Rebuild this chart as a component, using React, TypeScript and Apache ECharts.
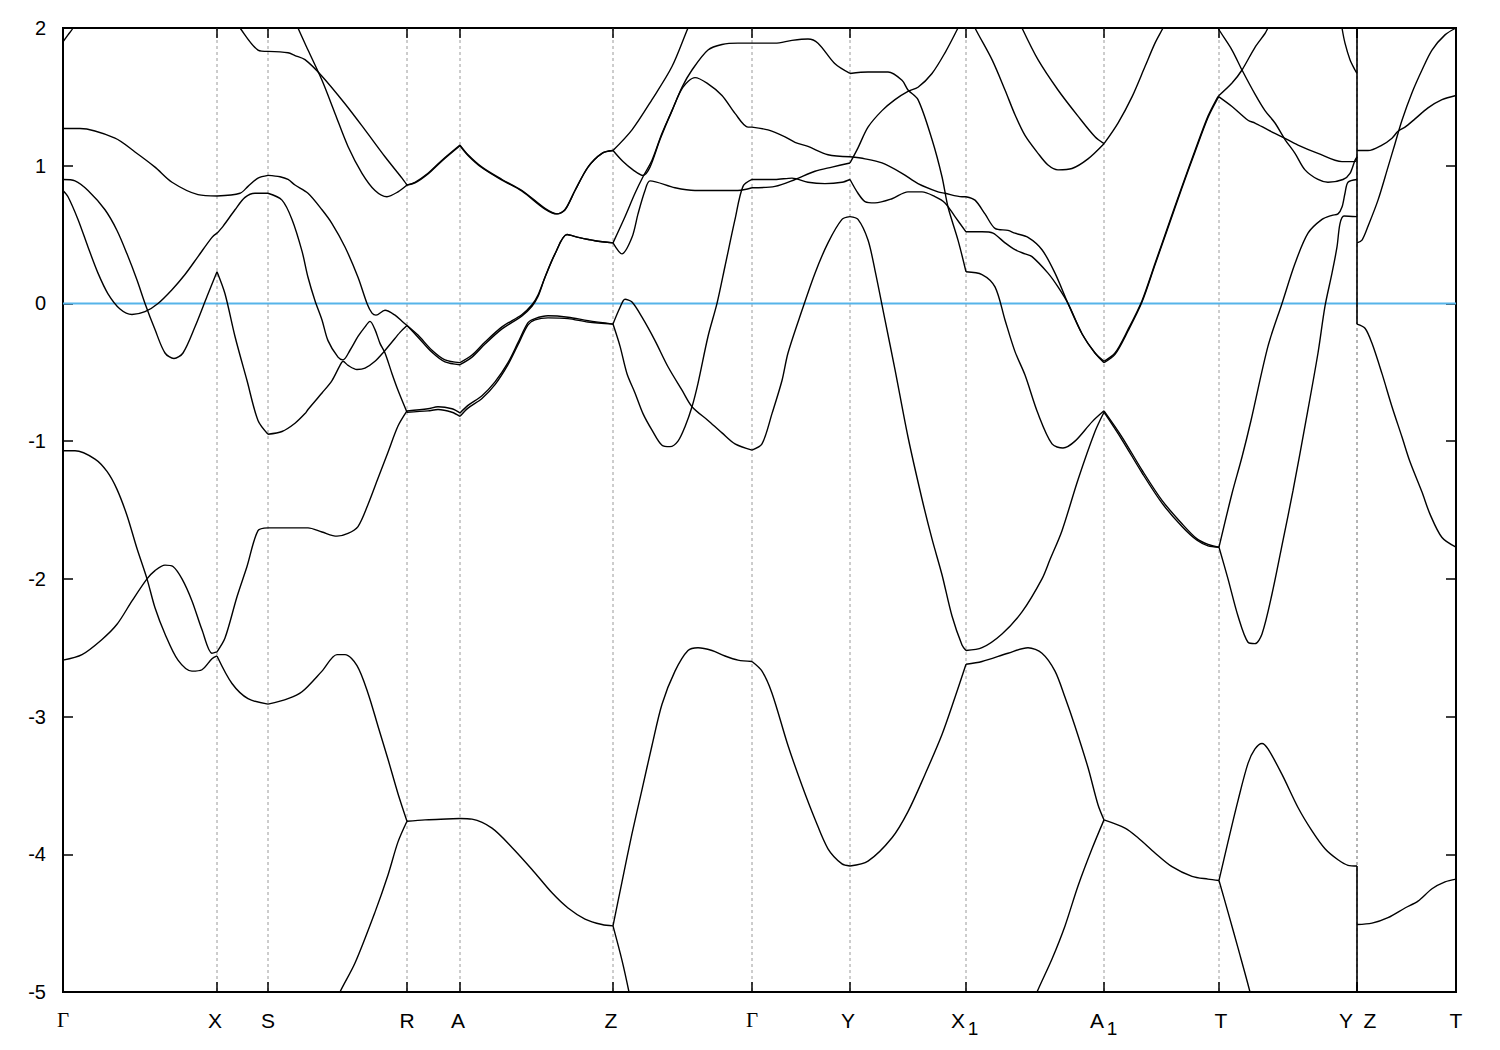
import React, { useEffect, useRef } from "react";
import * as echarts from "echarts";

// High-symmetry points along the k-path
const kPoints = [0, 1.54, 2.05, 3.44, 3.97, 5.5, 6.89, 7.87, 9.03, 10.41, 11.56, 12.94, 12.94, 13.93];
const kLabels = ["Γ", "X", "S", "R", "A", "Z", "Γ", "Y", "X", "A", "T", "Y", "Z", "T"];
const kSubs = ["", "", "", "", "", "", "", "", "1", "1", "", "", "", ""];

// Energy axis tick values
const eTicks = [2, 1, 0, -1, -2, -3, -4, -5];

// Band curves [k, E (eV)]
const c1 = [[0, 1.9], [0.05, 1.95], [0.1, 2.0], [0.13, 2.06]];
const c2 = [[0, 1.27], [0.17, 1.27], [0.52, 1.2], [0.72, 1.1], [0.92, 0.99], [1.09, 0.88], [1.35, 0.79], [1.54, 0.78], [1.77, 0.8], [1.85, 0.85], [1.95, 0.91], [2.05, 0.93], [2.17, 0.92], [2.25, 0.9], [2.32, 0.86], [2.45, 0.8], [2.59, 0.68], [2.69, 0.58], [2.82, 0.41], [2.95, 0.19], [3.04, 0.0], [3.09, -0.07], [3.13, -0.085], [3.22, -0.05], [3.32, -0.085], [3.39, -0.13], [3.44, -0.16], [3.55, -0.23], [3.69, -0.34], [3.82, -0.41], [3.97, -0.43], [4.09, -0.375], [4.22, -0.28], [4.39, -0.17], [4.59, -0.08], [4.69, -0.01], [4.75, 0.06], [4.82, 0.19], [4.92, 0.36], [5.04, 0.5], [5.15, 0.48], [5.32, 0.455], [5.5, 0.44], [5.59, 0.36], [5.69, 0.48], [5.75, 0.65], [5.82, 0.82], [5.87, 0.89], [6.12, 0.84], [6.32, 0.82], [6.55, 0.82], [6.75, 0.82], [6.89, 0.84], [7.12, 0.85], [7.32, 0.9], [7.52, 0.96], [7.69, 0.99], [7.87, 1.02], [7.95, 1.13], [8.05, 1.28], [8.19, 1.4], [8.32, 1.48], [8.45, 1.54], [8.55, 1.57], [8.69, 1.67], [8.82, 1.82], [8.95, 2.0], [9.02, 2.1]];
const c3 = [[0, 0.9], [0.12, 0.89], [0.25, 0.82], [0.42, 0.68], [0.54, 0.53], [0.64, 0.36], [0.74, 0.17], [0.82, 0.0], [0.92, -0.19], [1.02, -0.36], [1.11, -0.4], [1.2, -0.36], [1.32, -0.17], [1.44, 0.05], [1.54, 0.23], [1.62, 0.07], [1.72, -0.24], [1.84, -0.56], [1.95, -0.85], [2.05, -0.95], [2.19, -0.93], [2.32, -0.87], [2.42, -0.8], [2.45, -0.77], [2.59, -0.65], [2.69, -0.56], [2.77, -0.45], [2.8, -0.42], [2.85, -0.45], [2.94, -0.48], [3.02, -0.47], [3.12, -0.42], [3.21, -0.35], [3.29, -0.28], [3.37, -0.21], [3.44, -0.16], [3.55, -0.245], [3.69, -0.355], [3.82, -0.425], [3.97, -0.445], [4.09, -0.39], [4.22, -0.295], [4.39, -0.185], [4.59, -0.09], [4.69, -0.02], [4.75, 0.05], [4.82, 0.19], [4.92, 0.36], [5.04, 0.5], [5.15, 0.48], [5.32, 0.455], [5.5, 0.44], [5.62, 0.63], [5.72, 0.8], [5.8, 0.92], [5.89, 1.04], [5.99, 1.235], [6.09, 1.4], [6.19, 1.57], [6.29, 1.695], [6.45, 1.84], [6.59, 1.88], [6.75, 1.89], [6.89, 1.89], [7.12, 1.89], [7.29, 1.91], [7.45, 1.92], [7.55, 1.89], [7.72, 1.74], [7.87, 1.67], [8.05, 1.68], [8.25, 1.68], [8.39, 1.62], [8.45, 1.55], [8.55, 1.48], [8.69, 1.19], [8.79, 0.92], [8.85, 0.7], [8.95, 0.46], [9.03, 0.23], [9.19, 0.21], [9.32, 0.12], [9.42, -0.12], [9.52, -0.35], [9.62, -0.52], [9.75, -0.8], [9.89, -1.02], [10.0, -1.05], [10.12, -1.0], [10.29, -0.86], [10.41, -0.78], [10.59, -0.97], [10.79, -1.21], [10.99, -1.43], [11.19, -1.6], [11.34, -1.71], [11.45, -1.75], [11.56, -1.77], [11.69, -1.38], [11.79, -1.115], [11.88, -0.85], [12.05, -0.31], [12.19, 0.0], [12.32, 0.29], [12.45, 0.51], [12.59, 0.61], [12.69, 0.64], [12.75, 0.65], [12.79, 0.7], [12.82, 0.8], [12.85, 0.88], [12.94, 0.9]];
const c4 = [[0, 0.82], [0.05, 0.775], [0.15, 0.61], [0.25, 0.41], [0.35, 0.22], [0.45, 0.07], [0.57, -0.04], [0.69, -0.08], [0.82, -0.06], [0.95, 0.0], [1.09, 0.1], [1.22, 0.21], [1.35, 0.34], [1.49, 0.48], [1.54, 0.51], [1.6, 0.56], [1.72, 0.68], [1.82, 0.77], [1.92, 0.8], [2.05, 0.8], [2.19, 0.75], [2.29, 0.61], [2.39, 0.38], [2.45, 0.19], [2.52, 0.02], [2.59, -0.12], [2.65, -0.27], [2.75, -0.39], [2.8, -0.41], [2.87, -0.34], [2.95, -0.24], [3.02, -0.17], [3.07, -0.13], [3.12, -0.19], [3.17, -0.29], [3.22, -0.36], [3.29, -0.51], [3.35, -0.63], [3.44, -0.79], [3.65, -0.78], [3.75, -0.77], [3.89, -0.79], [3.97, -0.82], [4.05, -0.76], [4.19, -0.69], [4.32, -0.59], [4.45, -0.445], [4.55, -0.3], [4.65, -0.155], [4.72, -0.12], [4.85, -0.105], [5.05, -0.11], [5.25, -0.135], [5.5, -0.15], [5.57, -0.03], [5.62, 0.03], [5.69, 0.01], [5.79, -0.1], [5.92, -0.27], [6.05, -0.46], [6.19, -0.63], [6.29, -0.75], [6.45, -0.85], [6.59, -0.94], [6.72, -1.02], [6.89, -1.065], [6.99, -1.02], [7.09, -0.8], [7.19, -0.56], [7.25, -0.36], [7.39, -0.05], [7.52, 0.22], [7.65, 0.44], [7.79, 0.61], [7.87, 0.63], [7.95, 0.61], [8.05, 0.46], [8.12, 0.24], [8.22, -0.12], [8.32, -0.48], [8.45, -0.97], [8.59, -1.42], [8.69, -1.71], [8.79, -1.97], [8.89, -2.27], [8.99, -2.48], [9.03, -2.52], [9.19, -2.5], [9.39, -2.4], [9.59, -2.24], [9.79, -2.0], [9.87, -1.86], [9.99, -1.65], [10.15, -1.28], [10.32, -0.93], [10.41, -0.79], [10.59, -0.99], [10.79, -1.23], [10.99, -1.45], [11.19, -1.62], [11.34, -1.72], [11.45, -1.76], [11.56, -1.77], [11.65, -2.0], [11.75, -2.27], [11.85, -2.46], [11.92, -2.47], [11.99, -2.4], [12.09, -2.11], [12.2, -1.72], [12.3, -1.36], [12.43, -0.85], [12.55, -0.36], [12.62, -0.02], [12.69, 0.22], [12.74, 0.41], [12.77, 0.58], [12.81, 0.635], [12.94, 0.63]];
const c5 = [[0, -1.07], [0.12, -1.07], [0.32, -1.13], [0.44, -1.22], [0.54, -1.35], [0.64, -1.54], [0.74, -1.78], [0.84, -2.0], [0.92, -2.21], [1.02, -2.4], [1.15, -2.59], [1.29, -2.67], [1.39, -2.66], [1.49, -2.58], [1.54, -2.56], [1.69, -2.76], [1.85, -2.87], [2.05, -2.91], [2.25, -2.87], [2.39, -2.82], [2.59, -2.67], [2.74, -2.55], [2.82, -2.55], [2.94, -2.63], [3.05, -2.83], [3.15, -3.07], [3.25, -3.31], [3.35, -3.56], [3.44, -3.76], [3.62, -3.75], [3.97, -3.74], [4.09, -3.745], [4.29, -3.81], [4.49, -3.95], [4.69, -4.11], [4.89, -4.28], [5.05, -4.39], [5.22, -4.47], [5.39, -4.51], [5.5, -4.52], [5.59, -4.2], [5.69, -3.85], [5.79, -3.53], [5.89, -3.21], [5.99, -2.91], [6.12, -2.67], [6.25, -2.52], [6.35, -2.5], [6.49, -2.52], [6.62, -2.56], [6.75, -2.59], [6.89, -2.6], [6.99, -2.67], [7.09, -2.83], [7.25, -3.21], [7.39, -3.5], [7.52, -3.745], [7.65, -3.96], [7.79, -4.07], [7.87, -4.085], [8.05, -4.05], [8.29, -3.88], [8.45, -3.69], [8.62, -3.42], [8.79, -3.13], [8.92, -2.86], [9.03, -2.62], [9.19, -2.6], [9.45, -2.54], [9.65, -2.5], [9.79, -2.54], [9.92, -2.67], [10.02, -2.86], [10.12, -3.07], [10.25, -3.37], [10.35, -3.64], [10.41, -3.75], [10.62, -3.81], [10.75, -3.88], [10.92, -3.99], [11.09, -4.09], [11.29, -4.16], [11.45, -4.18], [11.56, -4.19], [11.65, -3.91], [11.75, -3.61], [11.85, -3.34], [11.92, -3.235], [11.99, -3.195], [12.05, -3.235], [12.19, -3.42], [12.35, -3.66], [12.49, -3.83], [12.62, -3.96], [12.75, -4.04], [12.85, -4.08], [12.94, -4.085]];
const c6 = [[0, -2.59], [0.19, -2.55], [0.39, -2.44], [0.54, -2.33], [0.69, -2.16], [0.84, -2.0], [0.92, -1.94], [1.02, -1.9], [1.1, -1.91], [1.19, -2.0], [1.29, -2.16], [1.39, -2.37], [1.49, -2.54], [1.54, -2.53], [1.62, -2.43], [1.74, -2.13], [1.84, -1.91], [1.95, -1.65], [2.05, -1.63], [2.25, -1.63], [2.45, -1.63], [2.59, -1.66], [2.74, -1.69], [2.85, -1.67], [2.95, -1.62], [3.05, -1.46], [3.15, -1.27], [3.25, -1.08], [3.35, -0.89], [3.44, -0.78], [3.65, -0.765], [3.75, -0.75], [3.89, -0.765], [3.97, -0.795], [4.05, -0.74], [4.19, -0.67], [4.32, -0.57], [4.45, -0.43], [4.55, -0.285], [4.65, -0.14], [4.72, -0.11], [4.85, -0.09], [5.05, -0.1], [5.25, -0.125], [5.5, -0.15], [5.57, -0.31], [5.64, -0.51], [5.72, -0.65], [5.8, -0.8], [5.89, -0.92], [5.99, -1.03], [6.07, -1.04], [6.15, -1.0], [6.22, -0.895], [6.29, -0.75], [6.35, -0.58], [6.45, -0.24], [6.54, 0.0], [6.62, 0.27], [6.72, 0.61], [6.8, 0.85], [6.89, 0.9], [7.12, 0.9], [7.29, 0.91], [7.45, 0.88], [7.62, 0.87], [7.79, 0.88], [7.87, 0.9], [7.95, 0.8], [8.02, 0.74], [8.12, 0.73], [8.29, 0.76], [8.45, 0.81], [8.59, 0.81], [8.72, 0.775], [8.82, 0.73], [8.92, 0.63], [9.03, 0.52], [9.19, 0.52], [9.3, 0.51], [9.42, 0.44], [9.52, 0.39], [9.62, 0.36], [9.69, 0.34], [9.85, 0.22], [9.95, 0.12], [10.05, 0.0], [10.19, -0.22], [10.32, -0.36], [10.41, -0.43], [10.52, -0.37], [10.65, -0.2], [10.79, 0.01], [10.92, 0.28], [11.05, 0.55], [11.19, 0.84], [11.32, 1.1], [11.45, 1.35], [11.54, 1.48], [11.56, 1.5], [11.69, 1.43], [11.85, 1.33], [11.92, 1.31], [12.05, 1.26], [12.19, 1.21], [12.35, 1.15], [12.55, 1.09], [12.79, 1.03], [12.92, 1.03], [12.94, 1.065]];
const c7 = [[6.89, 1.28], [7.05, 1.26], [7.22, 1.21], [7.32, 1.17], [7.45, 1.14], [7.65, 1.08], [7.87, 1.065], [8.02, 1.05], [8.19, 1.02], [8.39, 0.945], [8.55, 0.87], [8.75, 0.81], [8.82, 0.8], [8.99, 0.775], [9.03, 0.775], [9.12, 0.75], [9.22, 0.65], [9.32, 0.545], [9.45, 0.53], [9.52, 0.51], [9.65, 0.48], [9.79, 0.39], [9.92, 0.22], [10.05, 0.0], [10.19, -0.22], [10.32, -0.36], [10.41, -0.42], [10.52, -0.36], [10.65, -0.19], [10.79, 0.02], [10.92, 0.29], [11.05, 0.56], [11.19, 0.85], [11.32, 1.11], [11.45, 1.36], [11.54, 1.49], [11.56, 1.51], [11.69, 1.6], [11.79, 1.695], [11.92, 1.86], [12.02, 1.96], [12.05, 2.0], [12.09, 2.05]];
const c9 = [[1.72, 2.06], [1.77, 2.0], [1.95, 1.84], [2.05, 1.83], [2.25, 1.82], [2.32, 1.8], [2.42, 1.77], [2.59, 1.65], [2.82, 1.45], [3.02, 1.26], [3.22, 1.065], [3.39, 0.91], [3.44, 0.86], [3.52, 0.88], [3.65, 0.945], [3.79, 1.04], [3.97, 1.15], [4.05, 1.08], [4.19, 0.99], [4.39, 0.9], [4.59, 0.82], [4.82, 0.69], [4.94, 0.65], [5.02, 0.68], [5.12, 0.82], [5.25, 0.99], [5.39, 1.09], [5.5, 1.11], [5.69, 1.26], [5.89, 1.48], [6.09, 1.72], [6.25, 2.0], [6.29, 2.06]];
const c10 = [[2.33, 2.04], [2.35, 2.0], [2.45, 1.84], [2.59, 1.62], [2.72, 1.38], [2.85, 1.14], [2.99, 0.945], [3.12, 0.82], [3.24, 0.775], [3.35, 0.81], [3.44, 0.86], [3.52, 0.875], [3.65, 0.94], [3.79, 1.035], [3.97, 1.145], [4.05, 1.075], [4.19, 0.985], [4.39, 0.895], [4.59, 0.815], [4.82, 0.685], [4.94, 0.65], [5.02, 0.68], [5.12, 0.82], [5.25, 0.99], [5.39, 1.09], [5.5, 1.11], [5.6, 1.03], [5.7, 0.97], [5.8, 0.93], [5.87, 0.99], [5.97, 1.19], [6.09, 1.4], [6.2, 1.57], [6.32, 1.64], [6.44, 1.6], [6.59, 1.51], [6.72, 1.38], [6.85, 1.28], [6.89, 1.28]];
const c11 = [[9.09, 2.06], [9.12, 2.0], [9.29, 1.77], [9.42, 1.55], [9.52, 1.37], [9.62, 1.22], [9.75, 1.09], [9.85, 1.005], [9.95, 0.97], [10.09, 0.98], [10.25, 1.05], [10.41, 1.16], [10.55, 1.31], [10.69, 1.5], [10.82, 1.72], [10.92, 1.89], [11.0, 2.0], [11.04, 2.06]];
const c12 = [[9.56, 2.06], [9.59, 2.0], [9.75, 1.77], [9.95, 1.55], [10.15, 1.36], [10.32, 1.21], [10.41, 1.16]];
const c13 = [[11.53, 2.04], [11.55, 2.0], [11.69, 1.84], [11.79, 1.695], [11.92, 1.52], [12.02, 1.4], [12.12, 1.31], [12.22, 1.19], [12.32, 1.09], [12.42, 0.97], [12.55, 0.9], [12.65, 0.88], [12.8, 0.9], [12.87, 0.945], [12.92, 1.04], [12.94, 1.065]];
const c14 = [[12.78, 2.06], [12.79, 2.0], [12.82, 1.89], [12.87, 1.77], [12.92, 1.695], [12.94, 1.67]];
const b1 = [[2.75, -5.05], [2.77, -5.0], [2.92, -4.79], [3.12, -4.42], [3.25, -4.15], [3.35, -3.91], [3.44, -3.76]];
const b2 = [[5.5, -4.52], [5.59, -4.77], [5.66, -5.0], [5.67, -5.05]];
const b3 = [[9.72, -5.05], [9.74, -5.0], [9.89, -4.76], [10.02, -4.52], [10.15, -4.23], [10.29, -3.96], [10.41, -3.75]];
const b4 = [[11.56, -4.19], [11.65, -4.42], [11.75, -4.68], [11.87, -5.0], [11.88, -5.05]];
// Z -> T panel
const rg = [[12.94, 1.11], [13.05, 1.11], [13.19, 1.15], [13.29, 1.2], [13.35, 1.25], [13.42, 1.28], [13.52, 1.34], [13.65, 1.42], [13.79, 1.48], [13.93, 1.51]];
const rh = [[12.94, 0.44], [12.99, 0.46], [13.05, 0.56], [13.15, 0.75], [13.25, 0.99], [13.32, 1.16], [13.39, 1.33], [13.49, 1.53], [13.59, 1.695], [13.69, 1.84], [13.82, 1.95], [13.93, 2.0]];
const ri = [[12.94, -0.15], [13.02, -0.18], [13.09, -0.29], [13.19, -0.51], [13.29, -0.75], [13.39, -0.97], [13.47, -1.15], [13.59, -1.37], [13.67, -1.53], [13.79, -1.7], [13.93, -1.77]];
const rj = [[12.94, -4.51], [13.09, -4.5], [13.25, -4.46], [13.42, -4.39], [13.55, -4.34], [13.69, -4.25], [13.82, -4.2], [13.93, -4.18]];
// discontinuity jumps at Y|Z
const vA = [[12.94, 2.05], [12.94, -0.15]];
const vB = [[12.94, -4.085], [12.94, -5.05]];

const curves = [c1, c2, c3, c4, c5, c6, c7, c9, c10, c11, c12, c13, c14, b1, b2, b3, b4, rg, rh, ri, rj];
const jumps = [vA, vB];

// label pixel offsets (styling)
const labelDx = [0, -2, 0, 0, -2, -2, 0, -2, -8, -7, 2, -11, 13, 0];

function splitAtKinks(curve: number[][]) {
  const pieces: number[][][] = [];
  let cur: number[][] = [];
  curve.forEach((p, i) => {
    cur.push(p);
    const isSym = kPoints.some((k) => Math.abs(k - p[0]) < 0.006);
    if (isSym && i > 0 && i < curve.length - 1) {
      pieces.push(cur);
      cur = [p];
    }
  });
  if (cur.length > 1) pieces.push(cur);
  return pieces;
}

export default function App() {
  const ref = useRef<HTMLDivElement>(null);
  useEffect(() => {
    if (!ref.current) return;
    const chart = echarts.init(ref.current, undefined, { renderer: "svg" });
    const series: any[] = [];
    // high-symmetry lines, ticks and labels
    series.push({
      type: "custom",
      silent: true,
      z: 1,
      clip: false,
      encode: { x: 0, y: 1 },
      data: kPoints.map((k, i) => [k, -5, i]),
      renderItem: (params: any, api: any) => {
        const i = api.value(2);
        const k = api.value(0);
        const bot = api.coord([k, -5]);
        const top = api.coord([k, 2]);
        const children: any[] = [];
        if (i > 0 && i < kPoints.length - 1) {
          children.push({
            type: "line",
            shape: { x1: bot[0], y1: top[1], x2: bot[0], y2: bot[1] },
            style: { stroke: "#9a9a9a", lineWidth: 1, lineDash: [3, 3] },
          });
          children.push({
            type: "line",
            shape: { x1: bot[0], y1: bot[1], x2: bot[0], y2: bot[1] - 10 },
            style: { stroke: "#000", lineWidth: 1.5 },
          });
          children.push({
            type: "line",
            shape: { x1: bot[0], y1: top[1], x2: bot[0], y2: top[1] + 10 },
            style: { stroke: "#000", lineWidth: 1.5 },
          });
        }
        const isGamma = kLabels[i] === "Γ";
        children.push({
          type: "text",
          x: bot[0] + labelDx[i],
          y: bot[1] + 28,
          style: {
            text: kLabels[i],
            fill: "#000",
            fontSize: 21,
            fontFamily: isGamma ? "Liberation Serif" : "Liberation Sans",
            align: "center",
            verticalAlign: "middle",
          },
        });
        if (kSubs[i]) {
          children.push({
            type: "text",
            x: bot[0] + labelDx[i] + 15,
            y: bot[1] + 36,
            style: {
              text: kSubs[i],
              fill: "#000",
              fontSize: 19,
              fontFamily: "Liberation Sans",
              align: "center",
              verticalAlign: "middle",
            },
          });
        }
        return { type: "group", children };
      },
    });
    // Fermi level
    series.push({
      type: "line",
      data: [[0, 0], [13.93, 0]],
      showSymbol: false,
      silent: true,
      z: 2,
      lineStyle: { color: "#56b4e9", width: 2 },
    });
    curves.forEach((c) => {
      splitAtKinks(c).forEach((piece) => {
        series.push({
          type: "line",
          data: piece,
          showSymbol: false,
          silent: true,
          smooth: 0.3,
          z: 3,
          lineStyle: { color: "#000", width: 1.4 },
        });
      });
    });
    jumps.forEach((j) => {
      series.push({
        type: "line",
        data: j,
        showSymbol: false,
        silent: true,
        z: 3,
        lineStyle: { color: "#000", width: 1.6 },
      });
    });

    chart.setOption({
      animation: false,
      backgroundColor: "#fff",
      grid: { left: 63, right: 44, top: 28, bottom: 58, show: true, borderColor: "#000", borderWidth: 2, backgroundColor: "transparent" },
      xAxis: {
        type: "value",
        min: 0,
        max: 13.93,
        axisLine: { show: false },
        axisTick: { show: false },
        axisLabel: { show: false },
        splitLine: { show: false },
      },
      yAxis: [
        {
          type: "value",
          min: eTicks[eTicks.length - 1],
          max: eTicks[0],
          interval: 1,
          position: "left",
          axisLine: { show: false },
          axisTick: { show: true, inside: true, length: 10, lineStyle: { color: "#000", width: 1.5 } },
          axisLabel: { color: "#000", fontSize: 20, fontFamily: "Liberation Sans", margin: 17 },
          splitLine: { show: false },
        },
        {
          type: "value",
          min: eTicks[eTicks.length - 1],
          max: eTicks[0],
          interval: 1,
          position: "right",
          axisLine: { show: false },
          axisTick: { show: true, inside: true, length: 10, lineStyle: { color: "#000", width: 1.5 } },
          axisLabel: { show: false },
          splitLine: { show: false },
        },
      ],
      series,
    });
    return () => chart.dispose();
  }, []);
  return <div ref={ref} style={{ position: "absolute", left: 0, top: 0, width: 1500, height: 1050 }} />;
}
